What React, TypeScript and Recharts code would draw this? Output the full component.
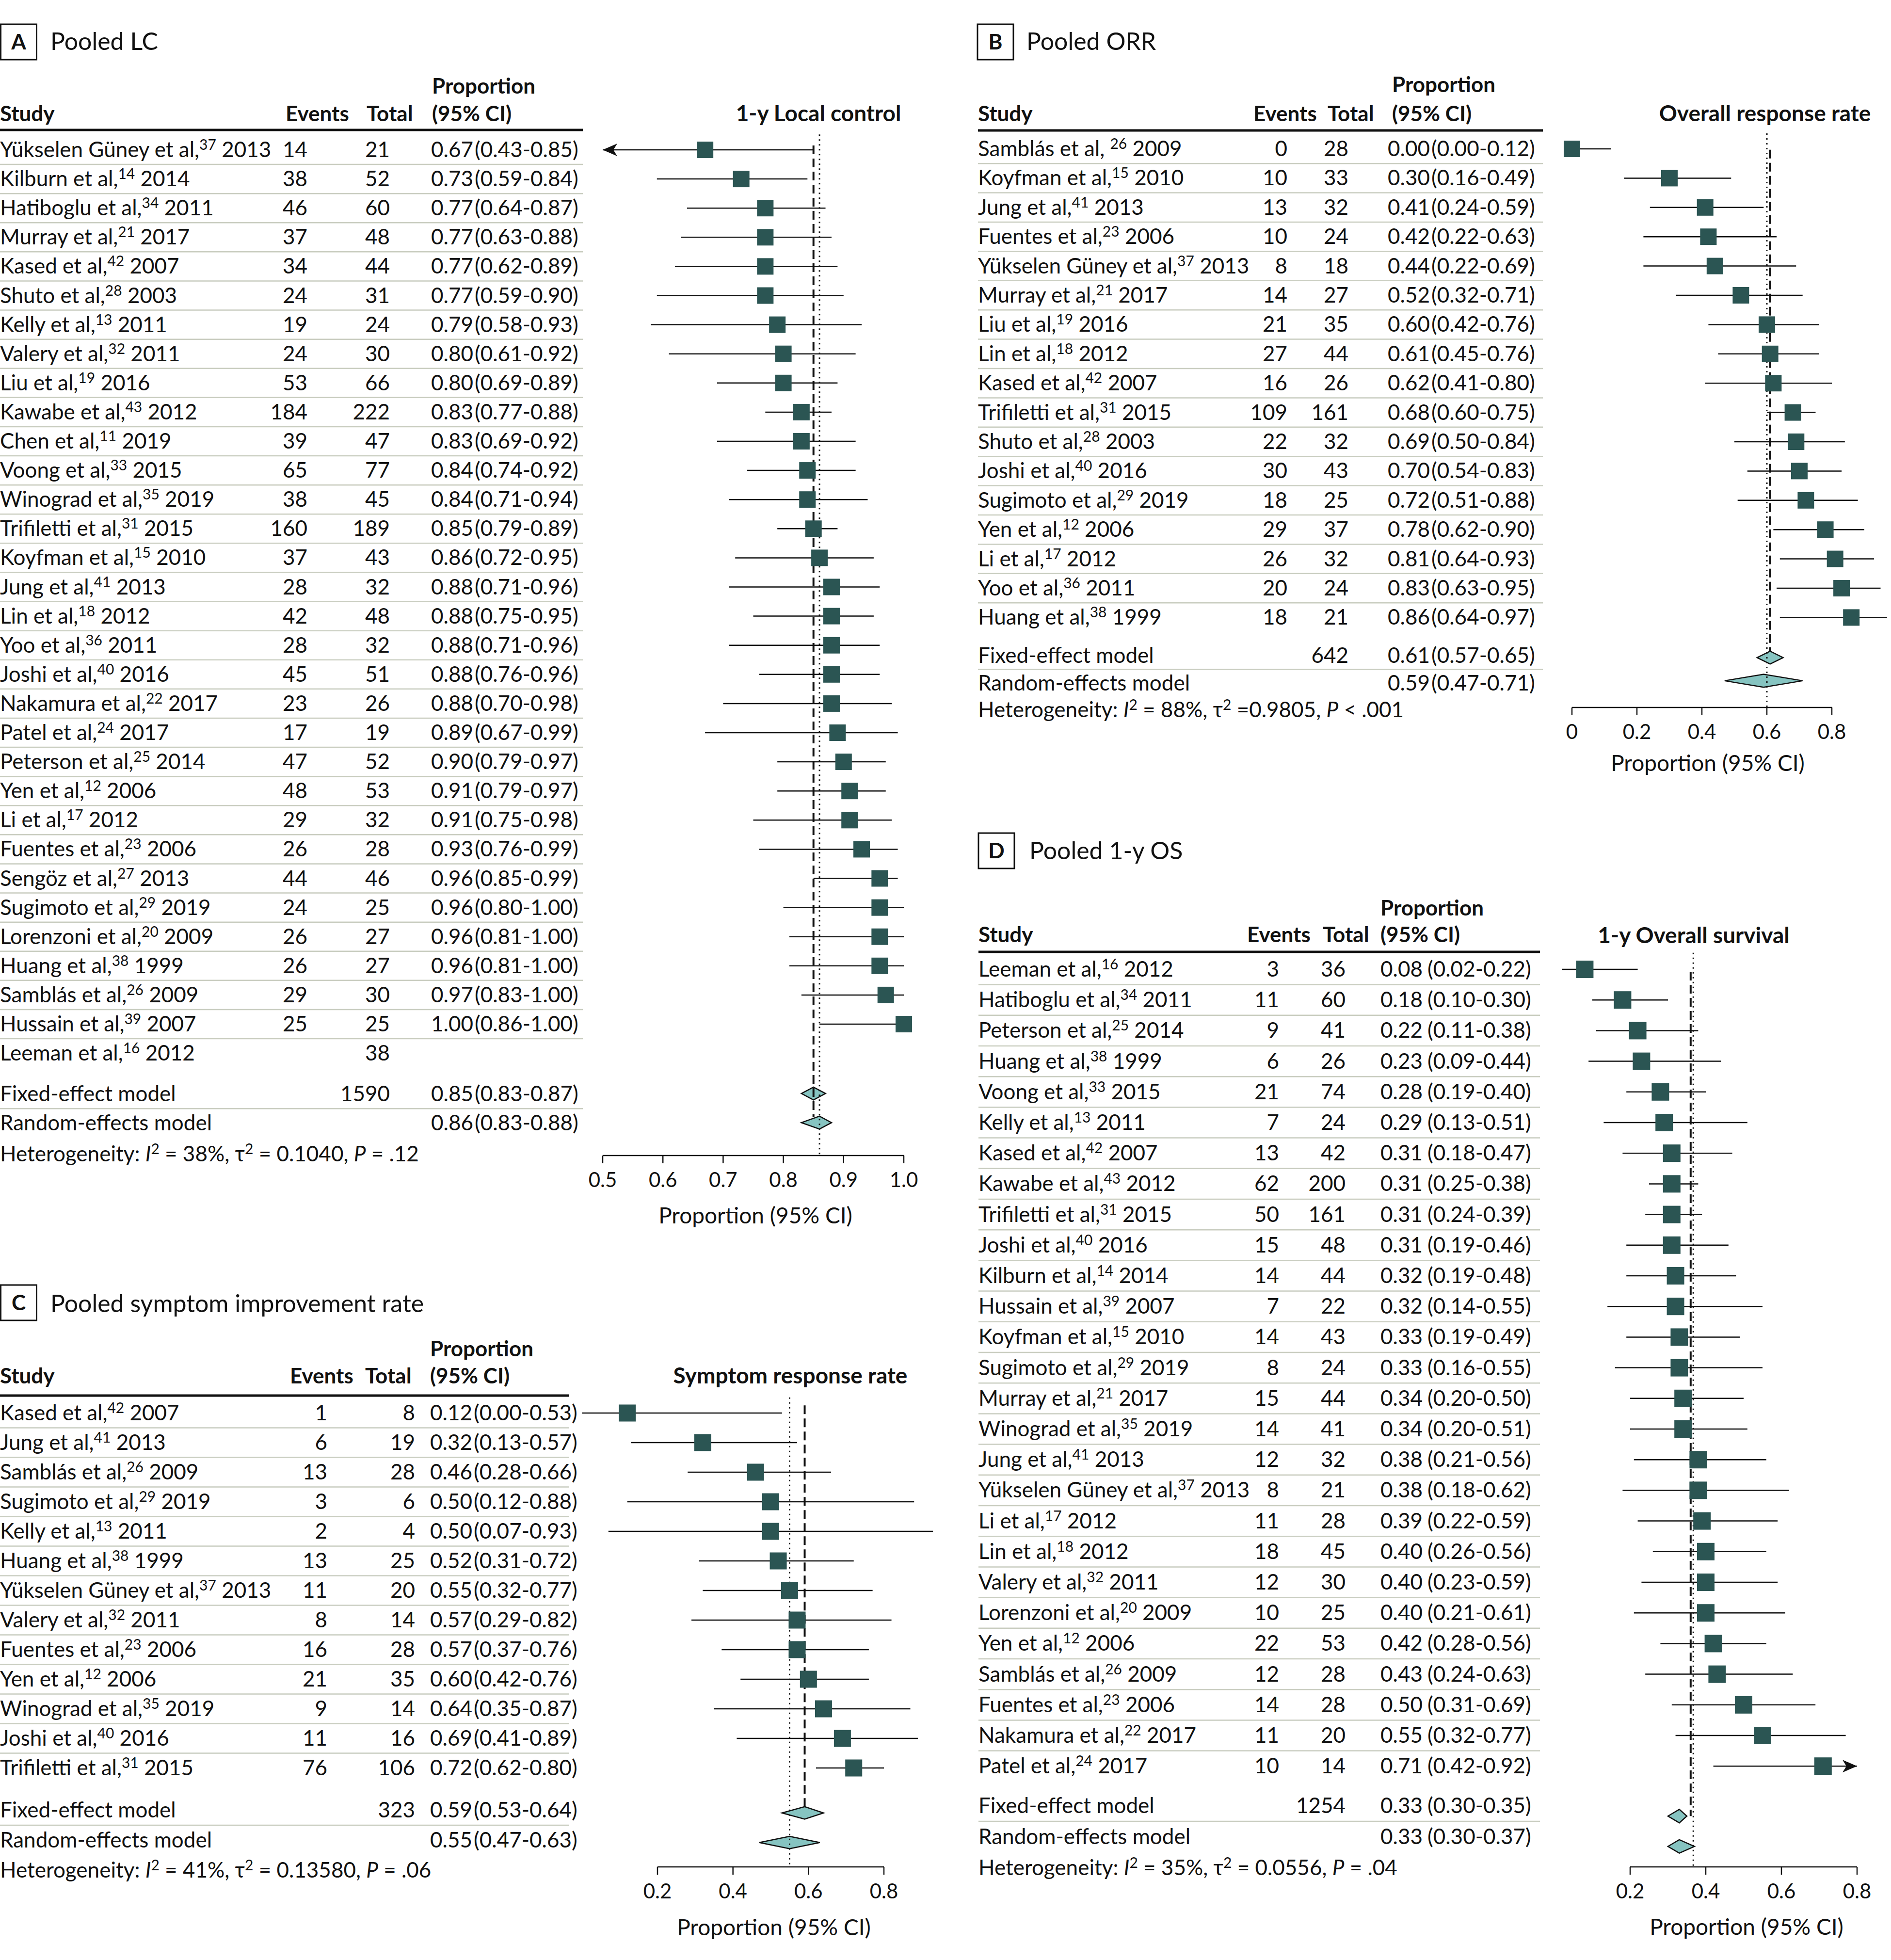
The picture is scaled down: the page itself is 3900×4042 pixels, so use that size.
import React from 'react';
import { ScatterChart, Scatter, XAxis, YAxis, ErrorBar, ReferenceLine, ReferenceArea } from 'recharts';

const W = 3900;
const H = 4042;
const FONT = 'Lato, "Open Sans", Arial, sans-serif';
const INK = '#111111';
const SQUARE = '#2b5553';
const DIAMOND = '#86c4c1';
const RULE = '#c9cdc0';

// ---- Panel A: pooled 1-y local control ----
const lcStudies = [
  ['Yükselen Güney et al,', '37', '2013'], ['Kilburn et al,', '14', '2014'], ['Hatiboglu et al,', '34', '2011'],
  ['Murray et al,', '21', '2017'], ['Kased et al,', '42', '2007'], ['Shuto et al,', '28', '2003'],
  ['Kelly et al,', '13', '2011'], ['Valery et al,', '32', '2011'], ['Liu et al,', '19', '2016'],
  ['Kawabe et al,', '43', '2012'], ['Chen et al,', '11', '2019'], ['Voong et al,', '33', '2015'],
  ['Winograd et al,', '35', '2019'], ['Trifiletti et al,', '31', '2015'], ['Koyfman et al,', '15', '2010'],
  ['Jung et al,', '41', '2013'], ['Lin et al,', '18', '2012'], ['Yoo et al,', '36', '2011'],
  ['Joshi et al,', '40', '2016'], ['Nakamura et al,', '22', '2017'], ['Patel et al,', '24', '2017'],
  ['Peterson et al,', '25', '2014'], ['Yen et al,', '12', '2006'], ['Li et al,', '17', '2012'],
  ['Fuentes et al,', '23', '2006'], ['Sengöz et al,', '27', '2013'], ['Sugimoto et al,', '29', '2019'],
  ['Lorenzoni et al,', '20', '2009'], ['Huang et al,', '38', '1999'], ['Samblás et al,', '26', '2009'],
  ['Hussain et al,', '39', '2007'], ['Leeman et al,', '16', '2012'],
];
const lcEvents = [14, 38, 46, 37, 34, 24, 19, 24, 53, 184, 39, 65, 38, 160, 37, 28, 42, 28, 45, 23, 17, 47, 48, 29, 26, 44, 24, 26, 26, 29, 25, null];
const lcTotals = [21, 52, 60, 48, 44, 31, 24, 30, 66, 222, 47, 77, 45, 189, 43, 32, 48, 32, 51, 26, 19, 52, 53, 32, 28, 46, 25, 27, 27, 30, 25, 38];
const lcEst = [0.67, 0.73, 0.77, 0.77, 0.77, 0.77, 0.79, 0.8, 0.8, 0.83, 0.83, 0.84, 0.84, 0.85, 0.86, 0.88, 0.88, 0.88, 0.88, 0.88, 0.89, 0.9, 0.91, 0.91, 0.93, 0.96, 0.96, 0.96, 0.96, 0.97, 1.0, null];
const lcLow = [0.43, 0.59, 0.64, 0.63, 0.62, 0.59, 0.58, 0.61, 0.69, 0.77, 0.69, 0.74, 0.71, 0.79, 0.72, 0.71, 0.75, 0.71, 0.76, 0.7, 0.67, 0.79, 0.79, 0.75, 0.76, 0.85, 0.8, 0.81, 0.81, 0.83, 0.86, null];
const lcHigh = [0.85, 0.84, 0.87, 0.88, 0.89, 0.9, 0.93, 0.92, 0.89, 0.88, 0.92, 0.92, 0.94, 0.89, 0.95, 0.96, 0.95, 0.96, 0.96, 0.98, 0.99, 0.97, 0.97, 0.98, 0.99, 0.99, 1.0, 1.0, 1.0, 1.0, 1.0, null];
const lcFixed = [0.85, 0.83, 0.87];
const lcRandom = [0.86, 0.83, 0.88];
const lcFixedTotal = 1590;
const lcRefLines = [0.85, 0.86]; // dashed (fixed), dotted (random)
const lcTicks = [0.5, 0.6, 0.7, 0.8, 0.9, 1.0];
const lcHet = ['38%', '= 0.1040,', '= .12'];

// ---- Panel B: pooled overall response rate ----
const orrStudies = [
  ['Samblás et al, ', '26', '2009'], ['Koyfman et al,', '15', '2010'], ['Jung et al,', '41', '2013'],
  ['Fuentes et al,', '23', '2006'], ['Yükselen Güney et al,', '37', '2013'], ['Murray et al,', '21', '2017'],
  ['Liu et al,', '19', '2016'], ['Lin et al,', '18', '2012'], ['Kased et al,', '42', '2007'],
  ['Trifiletti et al,', '31', '2015'], ['Shuto et al,', '28', '2003'], ['Joshi et al,', '40', '2016'],
  ['Sugimoto et al,', '29', '2019'], ['Yen et al,', '12', '2006'], ['Li et al,', '17', '2012'],
  ['Yoo et al,', '36', '2011'], ['Huang et al,', '38', '1999'],
];
const orrEvents = [0, 10, 13, 10, 8, 14, 21, 27, 16, 109, 22, 30, 18, 29, 26, 20, 18];
const orrTotals = [28, 33, 32, 24, 18, 27, 35, 44, 26, 161, 32, 43, 25, 37, 32, 24, 21];
const orrEst = [0.0, 0.3, 0.41, 0.42, 0.44, 0.52, 0.6, 0.61, 0.62, 0.68, 0.69, 0.7, 0.72, 0.78, 0.81, 0.83, 0.86];
const orrLow = [0.0, 0.16, 0.24, 0.22, 0.22, 0.32, 0.42, 0.45, 0.41, 0.6, 0.5, 0.54, 0.51, 0.62, 0.64, 0.63, 0.64];
const orrHigh = [0.12, 0.49, 0.59, 0.63, 0.69, 0.71, 0.76, 0.76, 0.8, 0.75, 0.84, 0.83, 0.88, 0.9, 0.93, 0.95, 0.97];
const orrFixed = [0.61, 0.57, 0.65];
const orrRandom = [0.59, 0.47, 0.71];
const orrFixedTotal = 642;
const orrRefLines = [0.61, 0.6];
const orrTicks = [0, 0.2, 0.4, 0.6, 0.8];
const orrHet = ['88%', '=0.9805,', '< .001'];

// ---- Panel C: pooled symptom improvement rate ----
const sxStudies = [
  ['Kased et al,', '42', '2007'], ['Jung et al,', '41', '2013'], ['Samblás et al,', '26', '2009'],
  ['Sugimoto et al,', '29', '2019'], ['Kelly et al,', '13', '2011'], ['Huang et al,', '38', '1999'],
  ['Yükselen Güney et al,', '37', '2013'], ['Valery et al,', '32', '2011'], ['Fuentes et al,', '23', '2006'],
  ['Yen et al,', '12', '2006'], ['Winograd et al,', '35', '2019'], ['Joshi et al,', '40', '2016'],
  ['Trifiletti et al,', '31', '2015'],
];
const sxEvents = [1, 6, 13, 3, 2, 13, 11, 8, 16, 21, 9, 11, 76];
const sxTotals = [8, 19, 28, 6, 4, 25, 20, 14, 28, 35, 14, 16, 106];
const sxEst = [0.12, 0.32, 0.46, 0.5, 0.5, 0.52, 0.55, 0.57, 0.57, 0.6, 0.64, 0.69, 0.72];
const sxLow = [0.0, 0.13, 0.28, 0.12, 0.07, 0.31, 0.32, 0.29, 0.37, 0.42, 0.35, 0.41, 0.62];
const sxHigh = [0.53, 0.57, 0.66, 0.88, 0.93, 0.72, 0.77, 0.82, 0.76, 0.76, 0.87, 0.89, 0.8];
const sxFixed = [0.59, 0.53, 0.64];
const sxRandom = [0.55, 0.47, 0.63];
const sxFixedTotal = 323;
const sxRefLines = [0.59, 0.55];
const sxTicks = [0.2, 0.4, 0.6, 0.8];
const sxHet = ['41%', '= 0.13580,', '= .06'];

// ---- Panel D: pooled 1-y overall survival ----
const osStudies = [
  ['Leeman et al,', '16', '2012'], ['Hatiboglu et al,', '34', '2011'], ['Peterson et al,', '25', '2014'],
  ['Huang et al,', '38', '1999'], ['Voong et al,', '33', '2015'], ['Kelly et al,', '13', '2011'],
  ['Kased et al,', '42', '2007'], ['Kawabe et al,', '43', '2012'], ['Trifiletti et al,', '31', '2015'],
  ['Joshi et al,', '40', '2016'], ['Kilburn et al,', '14', '2014'], ['Hussain et al,', '39', '2007'],
  ['Koyfman et al,', '15', '2010'], ['Sugimoto et al,', '29', '2019'], ['Murray et al,', '21', '2017'],
  ['Winograd et al,', '35', '2019'], ['Jung et al,', '41', '2013'], ['Yükselen Güney et al,', '37', '2013'],
  ['Li et al,', '17', '2012'], ['Lin et al,', '18', '2012'], ['Valery et al,', '32', '2011'],
  ['Lorenzoni et al,', '20', '2009'], ['Yen et al,', '12', '2006'], ['Samblás et al,', '26', '2009'],
  ['Fuentes et al,', '23', '2006'], ['Nakamura et al,', '22', '2017'], ['Patel et al,', '24', '2017'],
];
const osEvents = [3, 11, 9, 6, 21, 7, 13, 62, 50, 15, 14, 7, 14, 8, 15, 14, 12, 8, 11, 18, 12, 10, 22, 12, 14, 11, 10];
const osTotals = [36, 60, 41, 26, 74, 24, 42, 200, 161, 48, 44, 22, 43, 24, 44, 41, 32, 21, 28, 45, 30, 25, 53, 28, 28, 20, 14];
const osEst = [0.08, 0.18, 0.22, 0.23, 0.28, 0.29, 0.31, 0.31, 0.31, 0.31, 0.32, 0.32, 0.33, 0.33, 0.34, 0.34, 0.38, 0.38, 0.39, 0.4, 0.4, 0.4, 0.42, 0.43, 0.5, 0.55, 0.71];
const osLow = [0.02, 0.1, 0.11, 0.09, 0.19, 0.13, 0.18, 0.25, 0.24, 0.19, 0.19, 0.14, 0.19, 0.16, 0.2, 0.2, 0.21, 0.18, 0.22, 0.26, 0.23, 0.21, 0.28, 0.24, 0.31, 0.32, 0.42];
const osHigh = [0.22, 0.3, 0.38, 0.44, 0.4, 0.51, 0.47, 0.38, 0.39, 0.46, 0.48, 0.55, 0.49, 0.55, 0.5, 0.51, 0.56, 0.62, 0.59, 0.56, 0.59, 0.61, 0.56, 0.63, 0.69, 0.77, 0.92];
const osFixed = [0.33, 0.3, 0.35];
const osRandom = [0.33, 0.3, 0.37];
const osFixedTotal = 1254;
const osRefLines = [0.36, 0.367];
const osTicks = [0.2, 0.4, 0.6, 0.8];
const osHet = ['35%', '= 0.0556,', '= .04'];

type Layout = {
  letter: string; title: string; chartTitle: string;
  left: number; boxX: number; boxY: number; titleX: number; titleY: number;
  headTopY: number; headY: number; eventsHeadX: number; totalHeadX: number; propHeadX: number;
  ruleY: number; ruleRight: number; chartTitleX: number; chartTitleY: number;
  hetY: number; axisLabelX: number; axisLabelY: number;
  rowY0: number; rowStep: number; axisY: number; axisMinX: number; axisMaxX: number;
  domain: [number, number]; ciLimits: [number, number];
  nameX: number; eventsX: number; totalX: number; propX: number; propGap: number;
  square: number; diamondH: number;
  fixedRow: number; randomRow: number; fixedMark: number; randomMark: number;
  dashedFrom: number; dashedTo: number; dottedFrom: number;
};

type Panel = {
  id: string; studies: string[][]; events: (number | null)[]; totals: number[];
  est: (number | null)[]; low: (number | null)[]; high: (number | null)[];
  fixed: number[]; random: number[]; fixedTotal: number; refLines: number[]; ticks: number[];
  het: string[]; L: Layout;
};

const PANELS: Panel[] = [
  {
    id: 'A', studies: lcStudies, events: lcEvents, totals: lcTotals, est: lcEst, low: lcLow, high: lcHigh,
    fixed: lcFixed, random: lcRandom, fixedTotal: lcFixedTotal, refLines: lcRefLines, ticks: lcTicks, het: lcHet,
    L: {
      letter: 'A', title: 'Pooled LC', chartTitle: '1-y Local control',
      left: 0, boxX: 1.5, boxY: 50, titleX: 104, titleY: 103,
      headTopY: 193, headY: 250, eventsHeadX: 589, totalHeadX: 756, propHeadX: 891,
      ruleY: 268, ruleRight: 1202, chartTitleX: 1688, chartTitleY: 250,
      hetY: 2395, axisLabelX: 1558, axisLabelY: 2523,
      rowY0: 309, rowStep: 60.1, axisY: 2383, axisMinX: 1243, axisMaxX: 1864,
      domain: [0.35, 1.05], ciLimits: [0.5, 1.0],
      nameX: 0, eventsX: 634, totalX: 804, propX: 889, propGap: 3,
      square: 34, diamondH: 0.22,
      fixedRow: 32.4, randomRow: 33.4, fixedMark: 32.38, randomMark: 33.38,
      dashedFrom: -0.15, dashedTo: 33.18, dottedFrom: -0.53,
    },
  },
  {
    id: 'B', studies: orrStudies, events: orrEvents, totals: orrTotals, est: orrEst, low: orrLow, high: orrHigh,
    fixed: orrFixed, random: orrRandom, fixedTotal: orrFixedTotal, refLines: orrRefLines, ticks: orrTicks, het: orrHet,
    L: {
      letter: 'B', title: 'Pooled ORR', chartTitle: 'Overall response rate',
      left: 2000, boxX: 2016, boxY: 50, titleX: 2117, titleY: 103,
      headTopY: 190, headY: 250, eventsHeadX: 2585, totalHeadX: 2738, propHeadX: 2871,
      ruleY: 269, ruleRight: 3182, chartTitleX: 3640, chartTitleY: 250,
      hetY: 1479, axisLabelX: 3522, axisLabelY: 1590,
      rowY0: 307, rowStep: 60.4, axisY: 1459, axisMinX: 3242, axisMaxX: 3778,
      domain: [-0.05, 0.98], ciLimits: [0, 1],
      nameX: 2017, eventsX: 2655, totalX: 2781, propX: 2862, propGap: 3,
      square: 34, diamondH: 0.22,
      fixedRow: 17.3, randomRow: 18.25, fixedMark: 17.37, randomMark: 18.16,
      dashedFrom: 0.03, dashedTo: 17.15, dottedFrom: -0.53,
    },
  },
  {
    id: 'C', studies: sxStudies, events: sxEvents, totals: sxTotals, est: sxEst, low: sxLow, high: sxHigh,
    fixed: sxFixed, random: sxRandom, fixedTotal: sxFixedTotal, refLines: sxRefLines, ticks: sxTicks, het: sxHet,
    L: {
      letter: 'C', title: 'Pooled symptom improvement rate', chartTitle: 'Symptom response rate',
      left: 0, boxX: 1.5, boxY: 2650, titleX: 104, titleY: 2706,
      headTopY: 2797, headY: 2853, eventsHeadX: 598, totalHeadX: 753, propHeadX: 887,
      ruleY: 2878, ruleRight: 1173, chartTitleX: 1630, chartTitleY: 2853,
      hetY: 3872, axisLabelX: 1596, axisLabelY: 3991,
      rowY0: 2914, rowStep: 61.0, axisY: 3850, axisMinX: 1356, axisMaxX: 1823,
      domain: [-0.02, 0.98], ciLimits: [0, 1],
      nameX: 0, eventsX: 675, totalX: 856, propX: 887, propGap: 3,
      square: 35, diamondH: 0.21,
      fixedRow: 13.43, randomRow: 14.44, fixedMark: 13.52, randomMark: 14.52,
      dashedFrom: -0.26, dashedTo: 13.31, dottedFrom: -0.53,
    },
  },
  {
    id: 'D', studies: osStudies, events: osEvents, totals: osTotals, est: osEst, low: osLow, high: osHigh,
    fixed: osFixed, random: osRandom, fixedTotal: osFixedTotal, refLines: osRefLines, ticks: osTicks, het: osHet,
    L: {
      letter: 'D', title: 'Pooled 1-y OS', chartTitle: '1-y Overall survival',
      left: 2000, boxX: 2018, boxY: 1718, titleX: 2123, titleY: 1772,
      headTopY: 1888, headY: 1943, eventsHeadX: 2572, totalHeadX: 2728, propHeadX: 2847,
      ruleY: 1963, ruleRight: 3176, chartTitleX: 3493, chartTitleY: 1945,
      hetY: 3867, axisLabelX: 3602, axisLabelY: 3990,
      rowY0: 1999, rowStep: 63.2, axisY: 3850, axisMinX: 3362, axisMaxX: 3830,
      domain: [0, 0.85], ciLimits: [0, 0.8],
      nameX: 2018, eventsX: 2638, totalX: 2775, propX: 2847, propGap: 10,
      square: 36, diamondH: 0.22,
      fixedRow: 27.3, randomRow: 28.3, fixedMark: 27.63, randomMark: 28.62,
      dashedFrom: 0.08, dashedTo: 27.63, dottedFrom: -0.54,
    },
  },
];

const ROW_FONT = 44;
const AXIS_H = 150;
const f2 = (v: number) => v.toFixed(2);

function StudyName({ x, y, s }: { x: number; y: number; s: string[] }) {
  return (
    <text x={x} y={y} fontSize={ROW_FONT} fontFamily={FONT} fill={INK}>
      {s[0]}
      <tspan dy={-15} fontSize={30}>{s[1]}</tspan>
      <tspan dy={15}>{' ' + s[2]}</tspan>
    </text>
  );
}

function PropText({ x, y, v, gap }: { x: number; y: number; v: number[]; gap: number }) {
  return (
    <text x={x} y={y} fontSize={ROW_FONT} fontFamily={FONT} fill={INK}>
      {f2(v[0])}
      <tspan dx={gap}>{`(${f2(v[1])}-${f2(v[2])})`}</tspan>
    </text>
  );
}

function makeRowTick(p: Panel) {
  const L = p.L;
  const n = p.studies.length;
  return (props: any) => {
    const v: number = props.payload?.value;
    const y: number = props.y;
    const base = y + 15;
    const txt = { fontSize: ROW_FONT, fontFamily: FONT, fill: INK } as const;
    if (Math.abs(v - L.fixedRow) < 1e-6) {
      const sep = y + ((L.randomRow - L.fixedRow) * L.rowStep) / 2;
      return (
        <g>
          <text x={L.nameX} y={base} {...txt}>Fixed-effect model</text>
          <text x={L.totalX} y={base} textAnchor="end" {...txt}>{p.fixedTotal}</text>
          <PropText x={L.propX} y={base} v={p.fixed} gap={L.propGap} />
          <line x1={L.nameX} x2={L.ruleRight} y1={sep} y2={sep} stroke={RULE} strokeWidth={2.5} />
        </g>
      );
    }
    if (Math.abs(v - L.randomRow) < 1e-6) {
      return (
        <g>
          <text x={L.nameX} y={base} {...txt}>Random-effects model</text>
          <PropText x={L.propX} y={base} v={p.random} gap={L.propGap} />
        </g>
      );
    }
    const i = Math.round(v);
    const est = p.est[i];
    const ev = p.events[i];
    return (
      <g>
        <StudyName x={L.nameX} y={base} s={p.studies[i]} />
        {ev !== null && <text x={L.eventsX} y={base} textAnchor="end" {...txt}>{ev}</text>}
        <text x={L.totalX} y={base} textAnchor="end" {...txt}>{p.totals[i]}</text>
        {est !== null && <PropText x={L.propX} y={base} v={[est, p.low[i] as number, p.high[i] as number]} gap={L.propGap} />}
        {i < n - 1 && (
          <line x1={L.nameX} x2={L.ruleRight} y1={y + L.rowStep / 2} y2={y + L.rowStep / 2} stroke={RULE} strokeWidth={2.5} />
        )}
      </g>
    );
  };
}

const diamondShape = (frac: number) => (props: any) => {
  const { x, y, width, height } = props;
  const ax = x + width * frac;
  const cy = y + height / 2;
  return (
    <path
      d={`M${x},${cy} L${ax},${y} L${x + width},${cy} L${ax},${y + height} Z`}
      fill={DIAMOND}
      stroke={INK}
      strokeWidth={2.5}
      strokeLinejoin="miter"
    />
  );
};

function ForestPanel({ p }: { p: Panel }) {
  const L = p.L;
  const a0 = p.ticks[0];
  const a1 = p.ticks[p.ticks.length - 1];
  const k = (L.axisMaxX - L.axisMinX) / (a1 - a0);
  const px0 = L.axisMinX + (L.domain[0] - a0) * k;
  const px1 = L.axisMinX + (L.domain[1] - a0) * k;
  const vTop = -1;
  const vBottom = (L.axisY - L.rowY0) / L.rowStep;
  const margin = {
    top: L.rowY0 + vTop * L.rowStep,
    bottom: H - L.axisY - AXIS_H,
    left: L.left,
    right: W - px1,
  };

  const [cLo, cHi] = L.ciLimits;
  const points = p.est
    .map((e, i) => ({ e, i }))
    .filter((d) => d.e !== null)
    .map(({ e, i }) => {
      const lo = Math.max(p.low[i] as number, cLo);
      const hi = Math.min(p.high[i] as number, cHi);
      return { x: e as number, y: i, ci: [(e as number) - lo, hi - (e as number)] };
    });
  const arrows = p.est
    .map((e, i) => ({ e, i }))
    .filter((d) => d.e !== null)
    .flatMap(({ i }) => {
      const out: { x: number; y: number; dir: number }[] = [];
      if ((p.low[i] as number) < cLo) out.push({ x: cLo, y: i, dir: -1 });
      if ((p.high[i] as number) > cHi) out.push({ x: cHi, y: i, dir: 1 });
      return out;
    });

  const rowTicks = [...p.studies.map((_, i) => i), L.fixedRow, L.randomRow];
  const RowTick = makeRowTick(p);
  const s = L.square;

  return (
    <ScatterChart width={W} height={H} margin={margin}>
      <XAxis
        type="number"
        dataKey="x"
        domain={L.domain}
        ticks={p.ticks}
        interval={0}
        tickFormatter={(v: number) => (v === 0 ? '0' : v.toFixed(1))}
        axisLine={false}
        tickLine={{ stroke: INK, strokeWidth: 2.5 }}
        tickSize={16}
        tickMargin={19}
        tick={{ fill: INK, fontSize: 42, fontFamily: FONT }}
        height={AXIS_H}
      />
      <YAxis
        type="number"
        dataKey="y"
        domain={[vTop, vBottom]}
        reversed
        ticks={rowTicks}
        interval={0}
        tick={RowTick}
        width={px0 - L.left}
        axisLine={false}
        tickLine={false}
      />
      <ReferenceLine
        ifOverflow="visible"
        segment={[{ x: p.refLines[1], y: L.dottedFrom }, { x: p.refLines[1], y: vBottom }]}
        stroke={INK}
        strokeWidth={3}
        strokeDasharray="3 7"
      />
      <ReferenceLine
        ifOverflow="visible"
        segment={[{ x: p.refLines[0], y: L.dashedFrom }, { x: p.refLines[0], y: L.dashedTo }]}
        stroke={INK}
        strokeWidth={4}
        strokeDasharray="18 9"
      />
      <ReferenceLine
        ifOverflow="visible"
        segment={[{ x: a0, y: vBottom }, { x: a1, y: vBottom }]}
        stroke={INK}
        strokeWidth={2.5}
      />
      <Scatter
        data={points}
        isAnimationActive={false}
        shape={(sp: any) => <rect x={sp.cx - s / 2} y={sp.cy - s / 2} width={s} height={s} fill={SQUARE} />}
      >
        <ErrorBar dataKey="ci" direction="x" width={0} stroke={INK} strokeWidth={2.5} isAnimationActive={false} />
      </Scatter>
      <Scatter
        data={arrows}
        isAnimationActive={false}
        shape={(sp: any) => {
          const d = sp.payload.dir;
          const cx = sp.cx;
          const cy = sp.cy;
          return (
            <path
              d={`M${cx},${cy} L${cx - d * 30},${cy - 13} L${cx - d * 22},${cy} L${cx - d * 30},${cy + 13} Z`}
              fill={INK}
            />
          );
        }}
      />
      {[
        { v: p.fixed, y: L.fixedMark },
        { v: p.random, y: L.randomMark },
      ].map((d, j) => (
        <ReferenceArea
          key={j}
          ifOverflow="visible"
          x1={d.v[1]}
          x2={d.v[2]}
          y1={d.y - L.diamondH}
          y2={d.y + L.diamondH}
          shape={diamondShape((d.v[0] - d.v[1]) / (d.v[2] - d.v[1]))}
        />
      ))}
    </ScatterChart>
  );
}

function PanelText({ p }: { p: Panel }) {
  const L = p.L;
  const bold = { fontFamily: FONT, fontWeight: 700, fill: INK } as const;
  const reg = { fontFamily: FONT, fill: INK } as const;
  return (
    <g>
      <rect x={L.boxX} y={L.boxY} width={74} height={73} fill="none" stroke={INK} strokeWidth={3} />
      <text x={L.boxX + 37} y={L.boxY + 52} textAnchor="middle" fontSize={44} {...bold}>{L.letter}</text>
      <text x={L.titleX} y={L.titleY} fontSize={50} {...reg}>{L.title}</text>
      <text x={L.propHeadX} y={L.headTopY} fontSize={44} {...bold}>Proportion</text>
      <text x={L.nameX} y={L.headY} fontSize={44} {...bold}>Study</text>
      <text x={L.eventsHeadX} y={L.headY} fontSize={44} {...bold}>Events</text>
      <text x={L.totalHeadX} y={L.headY} fontSize={44} {...bold}>Total</text>
      <text x={L.propHeadX} y={L.headY} fontSize={44} {...bold}>(95% CI)</text>
      <line x1={L.nameX} x2={L.ruleRight} y1={L.ruleY} y2={L.ruleY} stroke={INK} strokeWidth={5} />
      <text x={L.chartTitleX} y={L.chartTitleY} textAnchor="middle" fontSize={46} {...bold}>{L.chartTitle}</text>
      <text x={L.nameX} y={L.hetY} fontSize={ROW_FONT} {...reg}>
        {'Heterogeneity: '}
        <tspan fontStyle="italic">I</tspan>
        <tspan dy={-15} fontSize={30}>2</tspan>
        <tspan dy={15}>{` = ${p.het[0]}, τ`}</tspan>
        <tspan dy={-15} fontSize={30}>2</tspan>
        <tspan dy={15}>{` ${p.het[1]} `}</tspan>
        <tspan fontStyle="italic">P</tspan>
        <tspan>{` ${p.het[2]}`}</tspan>
      </text>
      <text x={L.axisLabelX} y={L.axisLabelY} textAnchor="middle" fontSize={46} {...reg}>Proportion (95% CI)</text>
    </g>
  );
}

export default function App() {
  return (
    <div style={{ position: 'absolute', left: 0, top: 0, width: W, height: H, background: '#ffffff' }}>
      <svg width={W} height={H} style={{ position: 'absolute', left: 0, top: 0 }}>
        {PANELS.map((p) => (
          <PanelText key={p.id} p={p} />
        ))}
      </svg>
      {PANELS.map((p) => (
        <div key={p.id} style={{ position: 'absolute', left: 0, top: 0 }}>
          <ForestPanel p={p} />
        </div>
      ))}
    </div>
  );
}
